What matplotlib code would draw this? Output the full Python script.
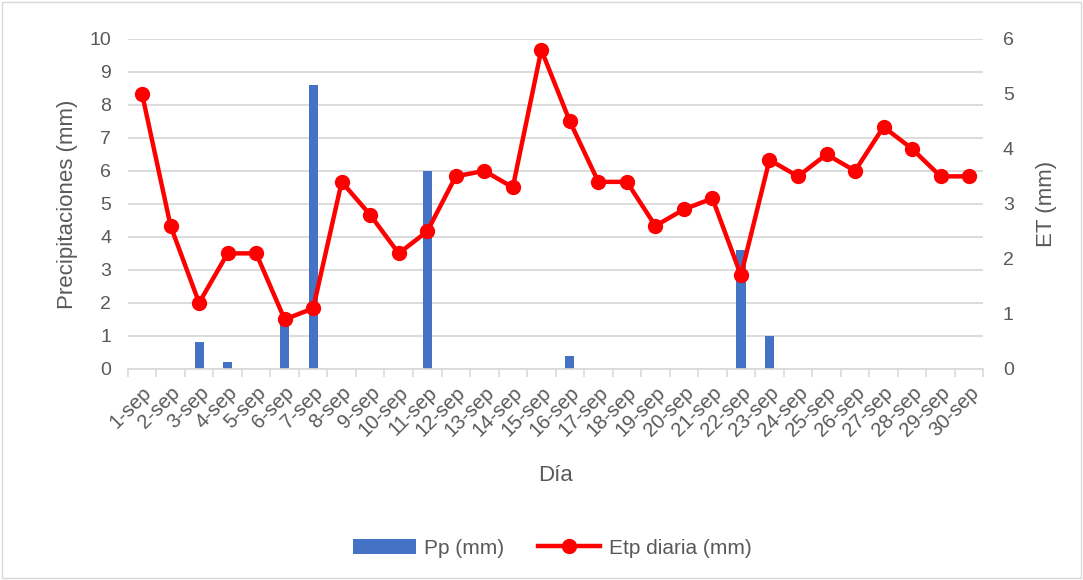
import matplotlib.pyplot as plt
import numpy as np

plt.rcParams['font.family'] = ['Liberation Sans', 'DejaVu Sans']

dias = [f'{i}-sep' for i in range(1, 31)]
pp = [0, 0, 0.8, 0.2, 0, 1.5, 8.6, 0, 0, 0, 6.0, 0, 0, 0, 0,
      0.4, 0, 0, 0, 0, 0, 3.6, 1.0, 0, 0, 0, 0, 0, 0, 0]
etp = [5.0, 2.6, 1.2, 2.1, 2.1, 0.9, 1.1, 3.4, 2.8, 2.1, 2.5, 3.5, 3.6, 3.3, 5.8,
       4.5, 3.4, 3.4, 2.6, 2.9, 3.1, 1.7, 3.8, 3.5, 3.9, 3.6, 4.4, 4.0, 3.5, 3.5]

gray = '#595959'
x = np.arange(len(dias))

fig = plt.figure(figsize=(10.83, 5.8), dpi=100)
fig.patches.append(plt.Rectangle((0.002, 0.003), 0.996, 0.994, transform=fig.transFigure,
                                 fill=False, edgecolor='#d9d9d9', linewidth=1))
ax = fig.add_axes([0.118, 0.364, 0.790, 0.569])
ax2 = ax.twinx()

ax.bar(x, pp, width=0.32, color='#4472c4', zorder=2, label='Pp (mm)')
ax2.plot(x, etp, color='#ff0000', linewidth=3.2, marker='o', markersize=10,
         zorder=3, label='Etp diaria (mm)')

ax.set_xlim(-0.5, len(dias) - 0.5)
ax.set_ylim(0, 10)
ax2.set_ylim(0, 6)
ax.set_yticks(range(0, 11))
ax2.set_yticks(range(0, 7))
ax.grid(axis='y', color='#d9d9d9', linewidth=1.3, zorder=0)
ax.set_axisbelow(True)

ax.set_xticks(x)
ax.set_xticklabels(dias, rotation=45, ha='right', rotation_mode='anchor', fontsize=14.5, color=gray)
ax.set_xticks(np.arange(-0.5, len(dias)), minor=True)
ax.tick_params(axis='x', which='major', length=0, pad=10)
ax.tick_params(axis='x', which='minor', length=6, color='#d9d9d9', width=1.2)
ax.tick_params(axis='y', length=0, labelsize=14, labelcolor=gray, pad=12)
ax2.tick_params(axis='y', length=0, labelsize=14, labelcolor=gray, pad=14)

for a in (ax, ax2):
    for s in a.spines.values():
        s.set_visible(False)
ax.spines['bottom'].set_visible(True)
ax.spines['bottom'].set_color('#d9d9d9')
ax.spines['bottom'].set_linewidth(1.2)

ax.set_ylabel('Precipitaciones (mm)', fontsize=16, color=gray, labelpad=8)
ax2.set_ylabel('ET (mm)', fontsize=16, color=gray, labelpad=16)
ax.set_xlabel('Día', fontsize=16, color=gray, labelpad=18)

h1, l1 = ax.get_legend_handles_labels()
h2, l2 = ax2.get_legend_handles_labels()
fig.legend(h1 + h2, l1 + l2, loc='center', bbox_to_anchor=(0.51, 0.055), ncol=2,
           frameon=False, fontsize=15, labelcolor=gray, handlelength=3, handletextpad=0.4,
           columnspacing=1.6)

fig.savefig('out.png', dpi=100)
